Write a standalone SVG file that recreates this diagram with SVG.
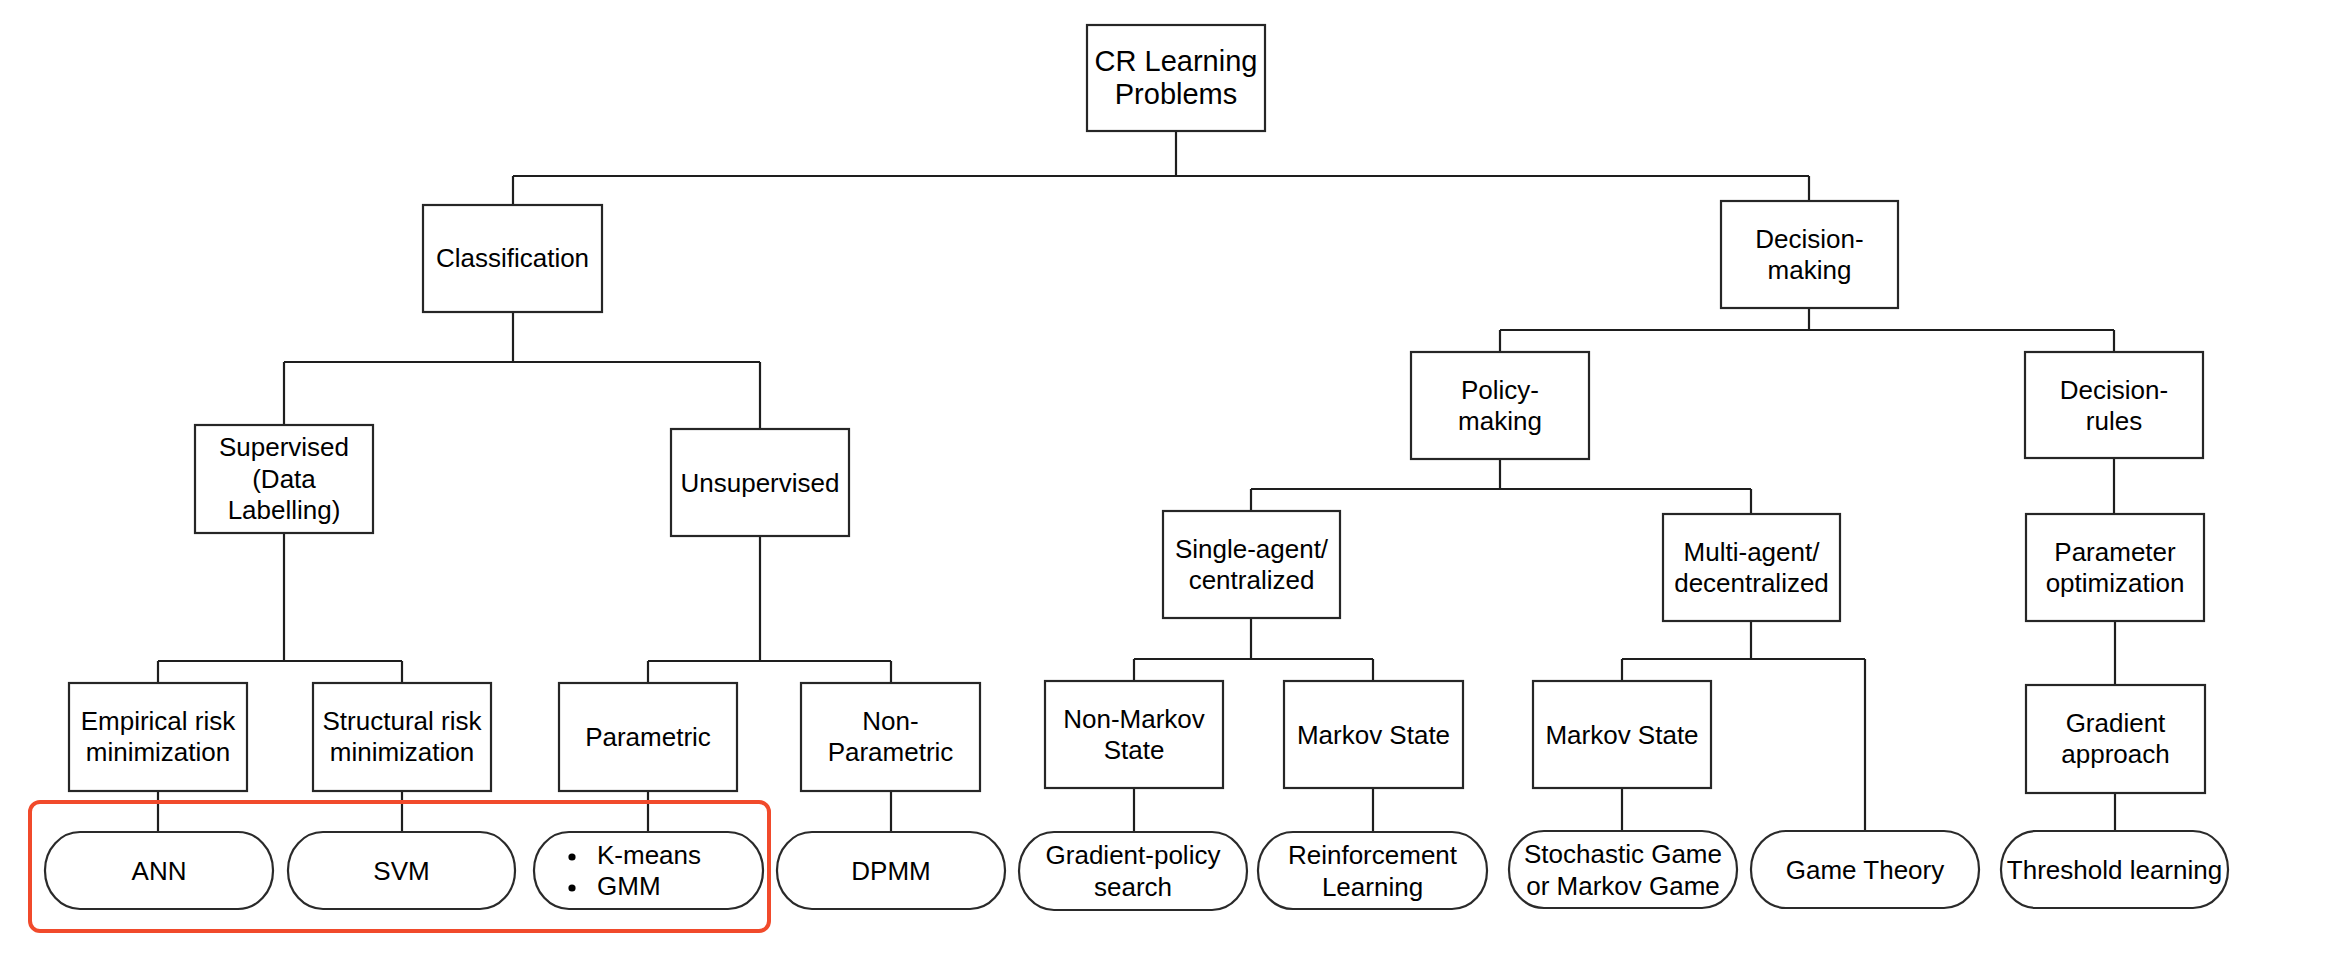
<svg xmlns="http://www.w3.org/2000/svg" width="2332" height="956" viewBox="0 0 2332 956">
<style>
  .box { fill: #ffffff; stroke: #262626; stroke-width: 2.2; }
  .pill { fill: #ffffff; stroke: #2a2a2a; stroke-width: 2.2; }
  .conn { fill: none; stroke: #1e1e1e; stroke-width: 2.2; }
  text { font-family: "Liberation Sans", Arial, sans-serif; font-size: 26px; fill: #000; text-anchor: middle; }
  .root { font-size: 29px; }
  .lt { text-anchor: start; }
  .hl { fill: none; stroke: #f14a2b; stroke-width: 4; }
</style>
<rect x="0" y="0" width="2332" height="956" fill="#ffffff"/>

<g id="connectors">
  <path class="conn" d="M1176,131 V176 M513,176 H1809 M513,176 V205 M1809,176 V201"/>
  <path class="conn" d="M513,312 V362 M284,362 H760 M284,362 V425 M760,362 V429"/>
  <path class="conn" d="M284,533 V661 M158,661 H402 M158,661 V683 M402,661 V683"/>
  <path class="conn" d="M760,536 V661 M648,661 H891 M648,661 V683 M891,661 V683"/>
  <path class="conn" d="M158,791 V832 M402,791 V832 M648,791 V832 M891,791 V832"/>
  <path class="conn" d="M1809,308 V330 M1500,330 H2114 M1500,330 V352 M2114,330 V352"/>
  <path class="conn" d="M1500,459 V489 M1251,489 H1751 M1251,489 V511 M1751,489 V514"/>
  <path class="conn" d="M2114,458 V514 M2115,621 V685 M2115,793 V832"/>
  <path class="conn" d="M1251,618 V659 M1134,659 H1373 M1134,659 V681 M1373,659 V681"/>
  <path class="conn" d="M1134,788 V832 M1373,788 V832"/>
  <path class="conn" d="M1751,621 V659 M1622,659 H1865 M1622,659 V681 M1865,659 V831 M1622,788 V831"/>
</g>

<g id="root">
  <rect class="box" x="1087" y="25" width="178" height="106"/>
  <text class="root" x="1176" y="71">CR Learning</text>
  <text class="root" x="1176" y="104">Problems</text>
</g>

<g id="classification">
  <rect class="box" x="423" y="205" width="179" height="107"/>
  <text x="512.5" y="267">Classification</text>
</g>

<g id="decision-making">
  <rect class="box" x="1721" y="201" width="177" height="107"/>
  <text x="1809.5" y="248">Decision-</text>
  <text x="1809.5" y="279">making</text>
</g>

<g id="supervised">
  <rect class="box" x="195" y="425" width="178" height="108"/>
  <text x="284" y="456">Supervised</text>
  <text x="284" y="487.5">(Data</text>
  <text x="284" y="519">Labelling)</text>
</g>

<g id="unsupervised">
  <rect class="box" x="671" y="429" width="178" height="107"/>
  <text x="760" y="492">Unsupervised</text>
</g>

<g id="policy-making">
  <rect class="box" x="1411" y="352" width="178" height="107"/>
  <text x="1500" y="399">Policy-</text>
  <text x="1500" y="430">making</text>
</g>

<g id="decision-rules">
  <rect class="box" x="2025" y="352" width="178" height="106"/>
  <text x="2114" y="398.5">Decision-</text>
  <text x="2114" y="429.5">rules</text>
</g>

<g id="single-agent">
  <rect class="box" x="1163" y="511" width="177" height="107"/>
  <text x="1251.5" y="558">Single-agent/</text>
  <text x="1251.5" y="589">centralized</text>
</g>

<g id="multi-agent">
  <rect class="box" x="1663" y="514" width="177" height="107"/>
  <text x="1751.5" y="561">Multi-agent/</text>
  <text x="1751.5" y="592">decentralized</text>
</g>

<g id="parameter-optimization">
  <rect class="box" x="2026" y="514" width="178" height="107"/>
  <text x="2115" y="561">Parameter</text>
  <text x="2115" y="592">optimization</text>
</g>

<g id="empirical-risk">
  <rect class="box" x="69" y="683" width="178" height="108"/>
  <text x="158" y="730">Empirical risk</text>
  <text x="158" y="761">minimization</text>
</g>

<g id="structural-risk">
  <rect class="box" x="313" y="683" width="178" height="108"/>
  <text x="402" y="730">Structural risk</text>
  <text x="402" y="761">minimization</text>
</g>

<g id="parametric">
  <rect class="box" x="559" y="683" width="178" height="108"/>
  <text x="648" y="746">Parametric</text>
</g>

<g id="non-parametric">
  <rect class="box" x="801" y="683" width="179" height="108"/>
  <text x="890.5" y="730">Non-</text>
  <text x="890.5" y="761">Parametric</text>
</g>

<g id="non-markov-state">
  <rect class="box" x="1045" y="681" width="178" height="107"/>
  <text x="1134" y="728">Non-Markov</text>
  <text x="1134" y="759">State</text>
</g>

<g id="markov-state-1">
  <rect class="box" x="1284" y="681" width="179" height="107"/>
  <text x="1373.5" y="744">Markov State</text>
</g>

<g id="markov-state-2">
  <rect class="box" x="1533" y="681" width="178" height="107"/>
  <text x="1622" y="744">Markov State</text>
</g>

<g id="gradient-approach">
  <rect class="box" x="2026" y="685" width="179" height="108"/>
  <text x="2115.5" y="732">Gradient</text>
  <text x="2115.5" y="763">approach</text>
</g>

<g id="ann">
  <rect class="pill" x="45" y="832" width="228" height="77" rx="35" ry="38"/>
  <text x="159" y="880">ANN</text>
</g>

<g id="svm">
  <rect class="pill" x="288" y="832" width="227" height="77" rx="35" ry="38"/>
  <text x="401.5" y="880">SVM</text>
</g>

<g id="kmeans-gmm">
  <rect class="pill" x="534" y="832" width="229" height="77" rx="35" ry="38"/>
  <circle cx="572" cy="857" r="3.6" fill="#000"/>
  <circle cx="572" cy="888" r="3.6" fill="#000"/>
  <text class="lt" x="597" y="864">K-means</text>
  <text class="lt" x="597" y="895">GMM</text>
</g>

<g id="dpmm">
  <rect class="pill" x="777" y="832" width="228" height="77" rx="35" ry="38"/>
  <text x="891" y="880">DPMM</text>
</g>

<g id="gradient-policy-search">
  <rect class="pill" x="1019" y="832" width="228" height="78" rx="35" ry="39"/>
  <text x="1133" y="864">Gradient-policy</text>
  <text x="1133" y="896">search</text>
</g>

<g id="reinforcement-learning">
  <rect class="pill" x="1258" y="832" width="229" height="77" rx="35" ry="38"/>
  <text x="1372.5" y="864">Reinforcement</text>
  <text x="1372.5" y="896">Learning</text>
</g>

<g id="stochastic-game">
  <rect class="pill" x="1509" y="831" width="228" height="77" rx="35" ry="38"/>
  <text x="1623" y="863">Stochastic Game</text>
  <text x="1623" y="895">or Markov Game</text>
</g>

<g id="game-theory">
  <rect class="pill" x="1751" y="831" width="228" height="77" rx="35" ry="38"/>
  <text x="1865" y="879">Game Theory</text>
</g>

<g id="threshold-learning">
  <rect class="pill" x="2001" y="831" width="227" height="77" rx="35" ry="38"/>
  <text x="2114.5" y="879">Threshold learning</text>
</g>

<g id="highlight">
  <rect class="hl" x="30" y="802" width="739" height="129" rx="10" ry="10"/>
</g>
</svg>
